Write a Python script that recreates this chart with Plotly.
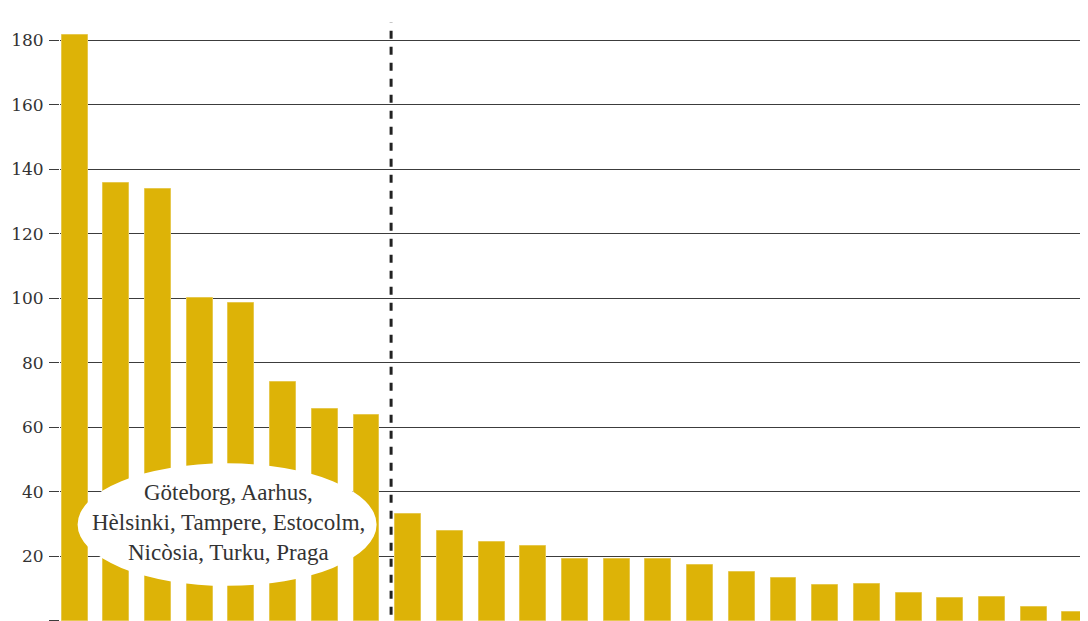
import plotly.graph_objects as go

# Data
rank = list(range(1, 26))
values = [181.5, 135.7, 133.8, 100.0, 98.4, 74.0, 65.6, 63.9,
          33.1, 27.7, 24.3, 23.1, 19.2, 19.0, 19.0, 17.2, 15.0, 13.2,
          11.2, 11.5, 8.5, 7.1, 7.4, 4.3, 2.8]
label_lines = ["Göteborg, Aarhus,", "Hèlsinki, Tampere, Estocolm,", "Nicòsia, Turku, Praga"]
ytick_vals = [0, 20, 40, 60, 80, 100, 120, 140, 160, 180]
ytick_text = [str(v) for v in ytick_vals]

BAR = "#DDB307"
INK = "#333333"
GRID = "#3c3c3c"
FONT = "Liberation Serif, DejaVu Serif, serif"
TICKFONT = "DejaVu Serif, serif"

fig = go.Figure()
fig.add_trace(go.Bar(
    x=rank, y=values, width=0.62,
    marker=dict(color=BAR, line=dict(color="#E6C84E", width=1)),
    hoverinfo="skip",
))

# split marker between group 1 (8 cities) and the rest
split_x = 8.59
fig.add_shape(type="line", xref="x", yref="y", x0=split_x, x1=split_x, y0=-3.1, y1=185.5,
              line=dict(color="#222222", width=3, dash="8px,8px"), layer="above")

# white ellipse with label
fig.add_shape(type="circle", xref="x", yref="y", x0=1.072, x1=8.242, y0=10.8, y1=48.8,
              fillcolor="white", line=dict(width=0), layer="above")
line_y = [39.8, 30.5, 21.2]
for txt, yy in zip(label_lines, line_y):
    fig.add_annotation(x=4.68, y=yy, xref="x", yref="y", text=txt, showarrow=False,
                       font=dict(family=FONT, size=23, color=INK), xanchor="center", yanchor="middle")

fig.update_layout(
    width=1080, height=613,
    margin=dict(l=52, r=0, t=0, b=0),
    paper_bgcolor="white", plot_bgcolor="white",
    showlegend=False, bargap=0,
    font=dict(family=FONT, color=INK),
)
fig.update_xaxes(range=[0.65, 25.303], visible=False, showgrid=False, zeroline=False)
fig.update_yaxes(range=[-0.1, 189.97], tickvals=ytick_vals, ticktext=ytick_text,
                 showgrid=True, gridcolor=GRID, gridwidth=1, zeroline=False,
                 ticks="outside", ticklen=10, tickcolor=GRID, tickwidth=1,
                 ticklabelstandoff=2,
                 tickfont=dict(family=TICKFONT, size=17, color=INK), showline=False)

fig.write_html("out.html")
